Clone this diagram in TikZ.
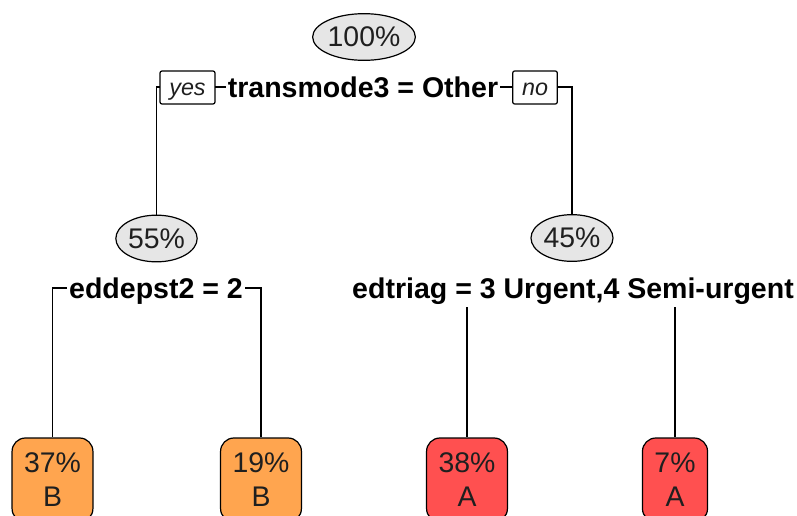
\documentclass[tikz,border=0pt]{standalone}
\usepackage{fontspec}
\setmainfont{Liberation Sans}
\usetikzlibrary{shapes.geometric,backgrounds}
\definecolor{leafB}{HTML}{FFA54F}
\definecolor{leafA}{HTML}{FF5050}
\definecolor{pctgray}{HTML}{E6E6E6}

\begin{document}
\begin{tikzpicture}[x=0.75pt, y=-0.75pt,
  every node/.style={font=\fontsize{21.3}{25.5}\selectfont, text=black!88},
  pct/.style={draw=black, ellipse, fill=pctgray, line width=0.9pt, inner sep=0pt, minimum width=61pt, minimum height=35pt},
  split/.style={fill=white, font=\fontsize{21.4}{25.5}\selectfont\bfseries, text=black, inner xsep=1.5pt, inner ysep=7pt, text height=15pt, text depth=0pt},
  tag/.style={draw=black, fill=white, line width=0.9pt, rounded corners=1.5pt, font=\fontsize{17.5}{20}\selectfont\itshape, minimum height=24.75pt, inner xsep=7pt, text height=12pt, text depth=0pt},
  leaf/.style={draw=black, line width=0.9pt, rounded corners=10pt, align=center, minimum height=63pt, inner xsep=9pt},
  edge/.style={draw=black, line width=0.9pt}]
\useasboundingbox (0,0) rectangle (797,515);

% root split
\node[pct] (n100) at (364,37) {100\%};
\node[split] (split1) at (363,87) {transmode3 = Other};

% second level
\node[pct, minimum width=61pt] (n55) at (156.5,238.5) {55\%};
\node[pct, minimum width=61.5pt] (n45) at (572,238) {45\%};
\node[split] (split2) at (156,288) {eddepst2 = 2};
\node[split] (split3) at (573,288) {edtriag = 3 Urgent,4 Semi-urgent};

% leaves
\node[leaf, fill=leafB] (n37) at (52.5,480) {37\%\\B};
\node[leaf, fill=leafB] (n19) at (261,480) {19\%\\B};
\node[leaf, fill=leafA] (n38) at (467,480) {38\%\\A};
\node[leaf, fill=leafA] (n7) at (675,480) {7\%\\A};

\begin{pgfonlayer}{background}
\draw[edge] (split1.center) -| (n55);
\draw[edge] (split1.center) -| (n45);
\draw[edge] (split2.center) -| (n37);
\draw[edge] (split2.center) -| (n19);
\draw[edge] (split3.center) -| (n38);
\draw[edge] (split3.center) -| (n7);
\end{pgfonlayer}

% yes / no tags
\node[tag] (yes) at (187.5,87.5) {yes};
\node[tag] (no) at (535,87.5) {no};
\end{tikzpicture}
\end{document}
